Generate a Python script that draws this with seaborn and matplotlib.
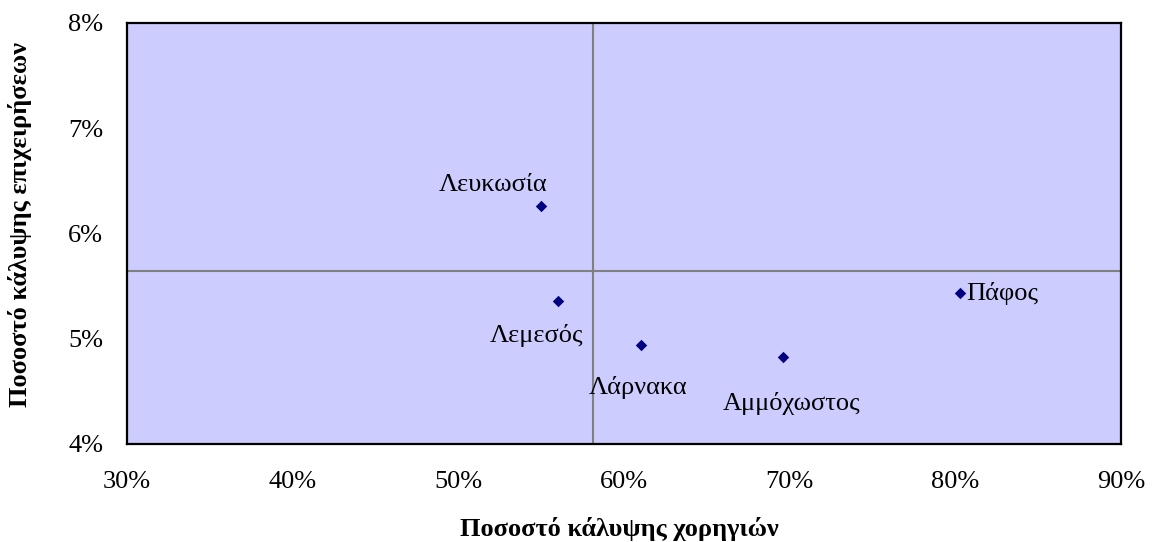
import matplotlib
matplotlib.use("Agg")
import matplotlib.pyplot as plt
from matplotlib.ticker import PercentFormatter, MultipleLocator
import seaborn as sns
import pandas as pd

# ---- data ----
districts = ["Λευκωσία", "Λεμεσός", "Λάρνακα", "Αμμόχωστος", "Πάφος"]
sponsorship_coverage = [55.0, 56.0, 61.0, 69.6, 80.3]   # x, %
business_coverage = [6.26, 5.36, 4.94, 4.82, 5.43]       # y, %
ref_x = 58.1   # vertical reference line, %
ref_y = 5.64   # horizontal reference line, %
x_label = "Ποσοστό κάλυψης χορηγιών"
y_label = "Ποσοστό κάλυψης επιχειρήσεων"

df = pd.DataFrame({"district": districts,
                   "x": sponsorship_coverage,
                   "y": business_coverage})

# ---- style ----
sns.set_theme(style="white")
plt.rcParams["font.family"] = ["Liberation Serif", "DejaVu Serif"]
plt.rcParams["text.color"] = "black"
plt.rcParams["axes.labelcolor"] = "black"

fig = plt.figure(figsize=(11.52, 5.42), dpi=100)
ax = fig.add_axes([0.1102, 0.1817, 0.9731 - 0.1102, 0.9576 - 0.1817])
ax.set_facecolor("#CCCCFF")

ax.axvline(ref_x, color="#808080", lw=1.5, zorder=1)
ax.axhline(ref_y, color="#808080", lw=1.5, zorder=1)

sns.scatterplot(data=df, x="x", y="y", ax=ax, marker="D", s=34,
                color="#000080", edgecolor="#000080", linewidth=0, zorder=3)

# label offsets (points) and alignment
offsets = {
    "Λευκωσία": ((-34.5, 15.0), "center"),
    "Λεμεσός": ((-15, -25.5), "center"),
    "Λάρνακα": ((-1.5, -31), "center"),
    "Αμμόχωστος": ((5.8, -33.5), "center"),
    "Πάφος": ((4.5, 0), "left"),
}
for name, xv, yv in zip(districts, sponsorship_coverage, business_coverage):
    off, ha = offsets[name]
    ax.annotate(name, (xv, yv), xytext=off, textcoords="offset points",
                ha=ha, va="center", fontsize=19, color="black")

ax.set_xlim(30, 90)
ax.set_ylim(4, 8)
ax.xaxis.set_major_locator(MultipleLocator(10))
ax.yaxis.set_major_locator(MultipleLocator(1))
ax.xaxis.set_major_formatter(PercentFormatter(decimals=0))
ax.yaxis.set_major_formatter(PercentFormatter(decimals=0))
ax.tick_params(axis="both", length=0, labelsize=19, colors="black")
ax.tick_params(axis="y", pad=17)
ax.tick_params(axis="x", pad=20)

for sp in ax.spines.values():
    sp.set_visible(True)
    sp.set_color("black")
    sp.set_linewidth(1.6)

ax.set_xlabel(x_label, fontsize=19, fontweight="bold", labelpad=0, color="black")
ax.set_ylabel(y_label, fontsize=19, fontweight="bold", labelpad=0, color="black")
ax.xaxis.set_label_coords(0.495, -0.174)
ax.yaxis.set_label_coords(-0.0956, 0.52)

fig.savefig("out.png", dpi=100, facecolor="white")
